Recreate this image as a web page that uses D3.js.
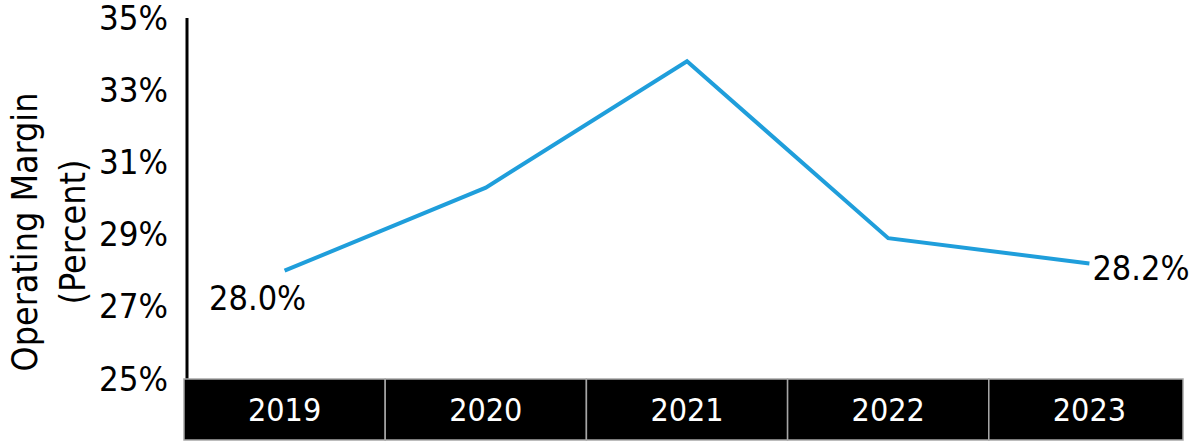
<!DOCTYPE html>
<html><head><meta charset="utf-8">
<script src="https://cdn.jsdelivr.net/npm/d3@7"></script>
<style>
body{margin:0;background:#fff;}
text{font-family:"DejaVu Sans Condensed","DejaVu Sans",sans-serif;font-stretch:condensed;}
</style></head>
<body><svg id="c" width="1192" height="444"></svg>
<script>
const years = ["2019","2020","2021","2022","2023"];
const margins = [28.0, 30.3, 33.8, 28.9, 28.2];
const yTicks = [25, 27, 29, 31, 33, 35];
const labels = [{i:0, text:"28.0%", pos:"below"},{i:4, text:"28.2%", pos:"right"}];

(function(){
const svg = d3.select("#c");
const mLeft = 184, mRight = 1190, bandRight = 1183, mTop = 18, mBottom = 379, bandH = 61;

const x = d3.scaleBand().domain(years).range([mLeft, mRight]).padding(0);
const y = d3.scaleLinear().domain([25, 35]).range([mBottom, mTop]);

// y axis
const yAxis = d3.axisLeft(y).tickValues(yTicks).tickSize(0).tickPadding(16).tickFormat(d => d + "%");
const gy = svg.append("g").attr("transform", `translate(${mLeft},0)`).call(yAxis);
gy.select(".domain").remove();
gy.selectAll("text").attr("font-size", 34.5).attr("fill", "#000")
  .style("font-family", '"DejaVu Sans Condensed","DejaVu Sans",sans-serif');
svg.append("line").attr("x1", mLeft+3).attr("x2", mLeft+3).attr("y1", mTop).attr("y2", mBottom)
  .attr("stroke", "#000").attr("stroke-width", 3);

// x band
const gx = svg.append("g");
gx.selectAll("rect").data(years).join("rect")
  .attr("x", d => x(d)).attr("y", mBottom)
  .attr("width", d => Math.min(x.bandwidth(), bandRight - x(d))).attr("height", bandH)
  .attr("fill", "#000").attr("stroke", "#a6a6a6").attr("stroke-width", 1.5);
gx.selectAll("text").data(years).join("text")
  .attr("x", d => x(d) + x.bandwidth()/2).attr("y", mBottom + bandH/2)
  .attr("text-anchor", "middle").attr("dominant-baseline", "central")
  .attr("font-size", 32).attr("fill", "#fff").text(d => d);

// line
const line = d3.line().x((d,i) => x(years[i]) + x.bandwidth()/2).y(d => y(d));
svg.append("path").datum(margins).attr("d", line)
  .attr("fill", "none").attr("stroke", "#1F9EDB").attr("stroke-width", 4).attr("stroke-linejoin", "miter");

// data labels
labels.forEach(l => {
  const px = x(years[l.i]) + x.bandwidth()/2, py = y(margins[l.i]);
  const t = svg.append("text").attr("font-size", 34).attr("fill", "#000").text(l.text);
  if (l.pos === "below") t.attr("x", px - 27).attr("y", py + 27).attr("text-anchor", "middle").attr("dominant-baseline", "central");
  else t.attr("x", px + 3).attr("y", py + 5).attr("text-anchor", "start").attr("dominant-baseline", "central");
});

// y title
const ty = svg.append("text").attr("transform", "translate(0,232) rotate(-90)")
  .attr("text-anchor", "middle").attr("font-size", 35.5).attr("fill", "#000");
ty.append("tspan").attr("x", 0).attr("y", 37).text("Operating Margin");
ty.append("tspan").attr("x", 0).attr("y", 85).text("(Percent)");
})();
</script></body></html>
